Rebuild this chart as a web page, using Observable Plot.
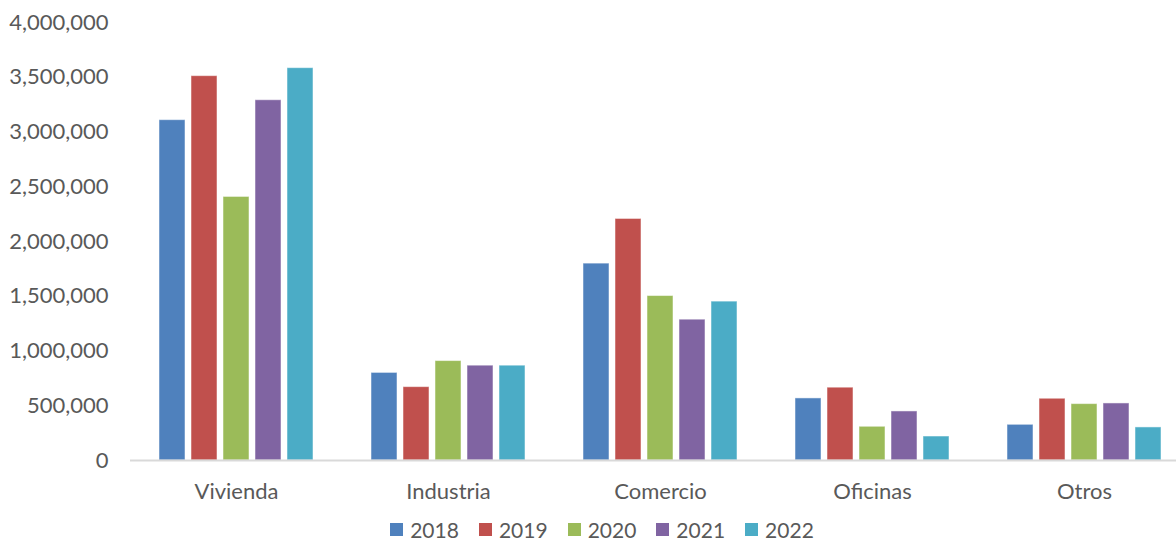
<!DOCTYPE html>
<html>
<head>
<meta charset="utf-8">
<script src="https://cdn.jsdelivr.net/npm/d3@7"></script>
<script src="https://cdn.jsdelivr.net/npm/@observablehq/plot@0.6"></script>
<style>
  html, body { margin: 0; padding: 0; background: #fff; overflow: hidden; }
  #chart { width: 1176px; height: 541px; font-family: Lato, "Open Sans", sans-serif; overflow: hidden; }
  .legend { display: flex; justify-content: center; align-items: center; gap: 20px; margin-top: 12px; padding-left: 28px; font-size: 21px; color: #595959; }
  .legend .item { display: flex; align-items: center; gap: 7px; }
  .legend .sw { width: 13px; height: 13px; display: inline-block; }
</style>
</head>
<body>
<div id="chart"></div>
<script>
const categories = ["Vivienda", "Industria", "Comercio", "Oficinas", "Otros"];
const years = ["2018", "2019", "2020", "2021", "2022"];
const colors = ["#4F81BD", "#C0504D", "#9BBB59", "#8064A2", "#4BACC6"];
const v2018 = [3108000, 800000, 1798000, 567000, 326000];
const v2019 = [3510000, 670000, 2206000, 665000, 564000];
const v2020 = [2407000, 908000, 1502000, 308000, 515000];
const v2021 = [3290000, 866000, 1286000, 448000, 521000];
const v2022 = [3583000, 866000, 1451000, 219000, 302000];
const yTicks = [0, 500000, 1000000, 1500000, 2000000, 2500000, 3000000, 3500000, 4000000];

const series = [v2018, v2019, v2020, v2021, v2022];
const data = [];
categories.forEach((c, i) => years.forEach((y, j) => data.push({cat: c, year: y, value: series[j][i]})));

const plot = Plot.plot({
  width: 1176,
  height: 505,
  marginTop: 22,
  marginBottom: 45,
  marginLeft: 130,
  marginRight: -14,
  style: {fontSize: "22px", fontFamily: "Lato, 'Open Sans', sans-serif", color: "#595959", background: "#fff", overflow: "hidden"},
  fx: {domain: categories, padding: 0, label: null, axis: "bottom", tickSize: 0, tickPadding: 23},
  x: {domain: years, paddingInner: 0.2, paddingOuter: 0.85, axis: null},
  y: {domain: [0, 4000000], ticks: yTicks, tickFormat: d3.format(","), tickSize: 0, tickPadding: 22, label: null},
  color: {domain: years, range: colors},
  marks: [
    Plot.barY(data, {fx: "cat", x: "year", y: "value", fill: "year", stroke: "#ffffff", strokeOpacity: 0.5, strokeWidth: 1}),
    Plot.ruleY([0], {stroke: "#d9d9d9", strokeWidth: 2})
  ]
});

const chart = document.getElementById("chart");
chart.appendChild(plot);

const legend = document.createElement("div");
legend.className = "legend";
years.forEach((y, j) => {
  const item = document.createElement("span");
  item.className = "item";
  const sw = document.createElement("span");
  sw.className = "sw";
  sw.style.background = colors[j];
  const t = document.createElement("span");
  t.textContent = y;
  item.appendChild(sw);
  item.appendChild(t);
  legend.appendChild(item);
});
chart.appendChild(legend);
</script>
</body>
</html>
